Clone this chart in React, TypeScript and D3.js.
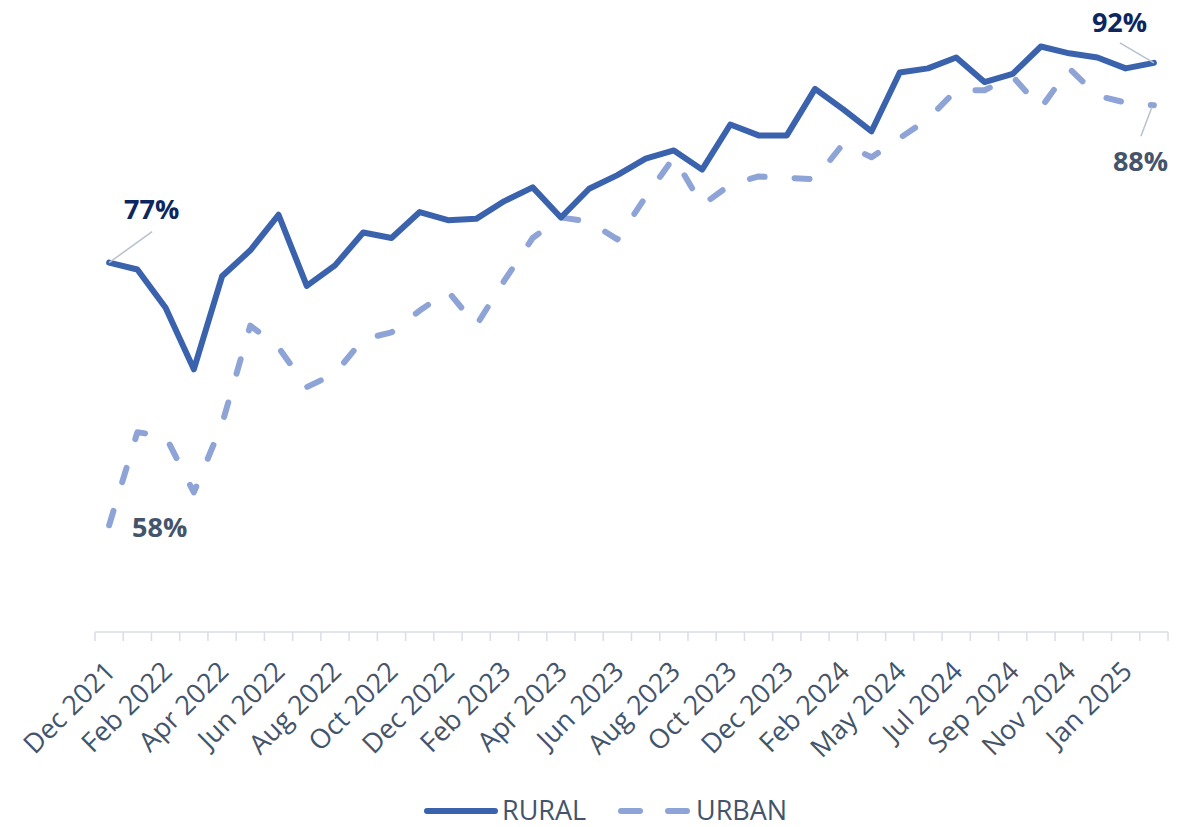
import React from "react";
import * as d3 from "d3";

const categories: string[] = [
  "Dec 2021", "Jan 2022", "Feb 2022", "Mar 2022", "Apr 2022", "May 2022", "Jun 2022",
  "Jul 2022", "Aug 2022", "Sep 2022", "Oct 2022", "Nov 2022", "Dec 2022", "Jan 2023",
  "Feb 2023", "Mar 2023", "Apr 2023", "May 2023", "Jun 2023", "Jul 2023", "Aug 2023",
  "Sep 2023", "Oct 2023", "Nov 2023", "Dec 2023", "Jan 2024", "Feb 2024", "Mar 2024",
  "May 2024", "Jun 2024", "Jul 2024", "Aug 2024", "Sep 2024", "Oct 2024", "Nov 2024",
  "Dec 2024", "Jan 2025", "Feb 2025",
];

const rural: number[] = [
  77.0, 76.5, 73.7, 69.2, 76.0, 77.9, 80.5, 75.3, 76.8, 79.2,
  78.8, 80.7, 80.1, 80.2, 81.5, 82.5, 80.3, 82.4, 83.4, 84.6,
  85.2, 83.8, 87.1, 86.3, 86.3, 89.7, 88.2, 86.6, 90.9, 91.2,
  92.0, 90.2, 90.8, 92.8, 92.3, 92.0, 91.2, 91.6,
];

const urban: number[] = [
  57.8, 64.6, 64.3, 60.2, 65.2, 72.4, 70.8, 67.9, 68.9, 71.4,
  71.9, 73.5, 74.9, 72.4, 75.7, 78.8, 80.3, 80.0, 78.7, 81.8,
  84.7, 81.2, 82.7, 83.3, 83.2, 83.1, 85.7, 84.7, 86.1, 87.5,
  89.6, 89.6, 90.6, 88.3, 91.2, 89.2, 88.7, 88.5,
];

const seriesNames: string[] = ["RURAL", "URBAN"];
const yDomain: number[] = [50, 95];

const FONT = "'Open Sans', 'Segoe UI', sans-serif";
const RURAL_COLOR = "#3b63ad";
const URBAN_COLOR = "#8fa4d6";
const TEXT_COLOR = "#44546a";
const NAVY = "#0c2660";

export default function App() {
  const W = 1190;
  const H = 827;
  const left = 95;
  const right = 1168;
  const bottom = 632;
  const top = 632 - 45 * 13.68;

  const x = d3.scaleBand<string>().domain(categories).range([left, right]).padding(0);
  const bw = x.bandwidth();
  const cx = (i: number) => (x(categories[i]) as number) + bw / 2;
  const y = d3.scaleLinear().domain(yDomain).range([bottom, top]);

  const line = d3
    .line<number>()
    .x((_, i) => cx(i))
    .y((d) => y(d));

  const tickPositions = d3.range(categories.length + 1).map((k) => left + k * bw);
  const last = categories.length - 1;

  return (
    <svg
      width={W}
      height={H}
      style={{ position: "absolute", left: 0, top: 0, background: "#fff" }}
      fontFamily={FONT}
    >
      {/* axis */}
      <line x1={left} x2={right} y1={bottom} y2={bottom} stroke="#d9dde6" strokeWidth={1.5} />
      {tickPositions.map((t, k) => (
        <line key={k} x1={t} x2={t} y1={bottom} y2={bottom + 9} stroke="#d9dde6" strokeWidth={1.5} />
      ))}
      {categories.map((c, i) =>
        i % 2 === 0 ? (
          <text
            key={c}
            transform={`translate(${cx(i) + 8},${bottom + 41}) rotate(-45)`}
            textAnchor="end"
            fontSize={27}
            fill={TEXT_COLOR}
          >
            {c}
          </text>
        ) : null
      )}

      {/* series */}
      <path
        d={line(urban) as string}
        fill="none"
        stroke={URBAN_COLOR}
        strokeWidth={6}
        strokeDasharray="15 30"
        strokeLinecap="round"
        strokeLinejoin="round"
      />
      <path
        d={line(rural) as string}
        fill="none"
        stroke={RURAL_COLOR}
        strokeWidth={6}
        strokeLinecap="round"
        strokeLinejoin="round"
      />

      {/* data labels with leader lines */}
      <line x1={cx(0)} y1={y(rural[0])} x2={cx(0) + 43} y2={y(rural[0]) - 31} stroke="#b7c1cf" strokeWidth={1.5} />
      <text x={cx(0) + 15} y={y(rural[0]) - 44} fontSize={27} fontWeight={700} fill={NAVY}>
        77%
      </text>
      <text x={cx(0) + 23} y={y(urban[0]) + 12} fontSize={27} fontWeight={700} fill={TEXT_COLOR}>
        58%
      </text>
      <line x1={cx(last)} y1={y(rural[last])} x2={cx(last) - 34} y2={y(rural[last]) - 20} stroke="#b7c1cf" strokeWidth={1.5} />
      <text x={cx(last) - 62} y={y(rural[last]) - 31} fontSize={27} fontWeight={700} fill={NAVY}>
        92%
      </text>
      <line x1={cx(last) - 2} y1={y(urban[last]) + 2} x2={cx(last) - 13} y2={y(urban[last]) + 31} stroke="#b7c1cf" strokeWidth={1.5} />
      <text x={cx(last) - 41} y={y(urban[last]) + 66} fontSize={27} fontWeight={700} fill={TEXT_COLOR}>
        88%
      </text>

      {/* legend */}
      <line x1={427} x2={495} y1={811} y2={811} stroke={RURAL_COLOR} strokeWidth={6} strokeLinecap="round" />
      <text x={502} y={820} fontSize={27} fill={TEXT_COLOR}>
        {seriesNames[0]}
      </text>
      <line x1={621} x2={640} y1={811} y2={811} stroke={URBAN_COLOR} strokeWidth={6} strokeLinecap="round" />
      <line x1={668} x2={687} y1={811} y2={811} stroke={URBAN_COLOR} strokeWidth={6} strokeLinecap="round" />
      <text x={696} y={820} fontSize={27} fill={TEXT_COLOR}>
        {seriesNames[1]}
      </text>
    </svg>
  );
}
